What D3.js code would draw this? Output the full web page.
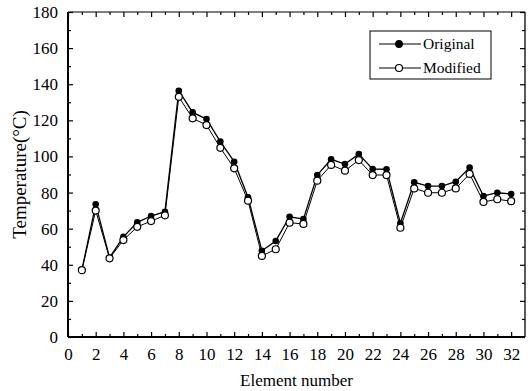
<!DOCTYPE html>
<html>
<head>
<meta charset="utf-8">
<script src="https://cdn.jsdelivr.net/npm/d3@7"></script>
<style>
body { margin: 0; background: #fff; }
text { font-family: "Liberation Serif", "Times New Roman", serif; fill: #000; }
</style>
</head>
<body>
<script>
var elements = d3.range(1, 33)
var original = [37, 73.5, 44, 55.5, 63.5, 67, 69.4, 136.4, 124.4, 120.7, 108.2, 97.1, 77.4, 47.8, 53.2, 66.6,
    65.3, 89.7, 98.4, 95.8, 101.3, 93, 92.9, 63, 85.7, 83.6, 83.6, 86, 93.8, 78.1, 79.9, 79.2]
var modified = [37, 70, 43.6, 53.7, 61, 64.2, 67.4, 133, 121.1, 117.4, 104.8, 93.4, 75.5, 44.9, 48.6, 63.3,
    62.6, 86.6, 95.3, 92.1, 98, 89.7, 89.7, 60.5, 82.3, 79.9, 79.9, 82.3, 90.3, 74.8, 76.3, 75.2]
var xMajor = d3.range(0, 33, 2)
var xMinor = d3.range(1, 33, 2)
var yMajor = d3.range(0, 181, 20)
var yMinor = d3.range(10, 180, 20)
var seriesNames = ["Original", "Modified"]

var W = 532, H = 391
var margin = {top: 12, right: 7, bottom: 54, left: 68}
var width = W - margin.left - margin.right,
    height = H - margin.top - margin.bottom

var x = d3.scaleLinear().domain([0, 33]).range([0, width])
var y = d3.scaleLinear().domain([0, 180]).range([height, 0])

var svg = d3.select("body").append("svg")
    .attr("width", W).attr("height", H)
var g = svg.append("g")
    .attr("transform", "translate(" + margin.left + "," + margin.top + ")")

function tidy(sel) {
    sel.select(".domain").remove()
    sel.selectAll("line").attr("stroke", "#000").attr("stroke-width", 1.2)
    sel.selectAll("text").style("font-family", "'Liberation Serif', serif").style("font-size", "17px")
}

// bottom axis
g.append("g").attr("transform", "translate(0," + height + ")")
    .call(d3.axisBottom(x).tickValues(xMajor).tickSizeInner(-5).tickPadding(11).tickFormat(d3.format("d")))
    .call(tidy)
g.append("g").attr("transform", "translate(0," + height + ")")
    .call(d3.axisBottom(x).tickValues(xMinor).tickSize(-3).tickFormat(""))
    .call(tidy)
// top axis
g.append("g")
    .call(d3.axisTop(x).tickValues(xMajor).tickSize(-5).tickFormat(""))
    .call(tidy)
g.append("g")
    .call(d3.axisTop(x).tickValues(xMinor).tickSize(-3).tickFormat(""))
    .call(tidy)
// left axis
g.append("g")
    .call(d3.axisLeft(y).tickValues(yMajor).tickSizeInner(-5).tickPadding(10))
    .call(tidy)
g.append("g")
    .call(d3.axisLeft(y).tickValues(yMinor).tickSize(-3).tickFormat(""))
    .call(tidy)
// right axis
g.append("g").attr("transform", "translate(" + width + ",0)")
    .call(d3.axisRight(y).tickValues(yMajor).tickSize(-5).tickFormat(""))
    .call(tidy)
g.append("g").attr("transform", "translate(" + width + ",0)")
    .call(d3.axisRight(y).tickValues(yMinor).tickSize(-3).tickFormat(""))
    .call(tidy)

// frame
g.append("line").attr("x1", 0).attr("x2", 0).attr("y1", 0).attr("y2", height)
    .attr("stroke", "#000").attr("stroke-width", 2)
g.append("line").attr("x1", 0).attr("x2", width).attr("y1", height).attr("y2", height)
    .attr("stroke", "#000").attr("stroke-width", 2)
g.append("line").attr("x1", 0).attr("x2", width).attr("y1", 0).attr("y2", 0)
    .attr("stroke", "#000").attr("stroke-width", 1)
g.append("line").attr("x1", width).attr("x2", width).attr("y1", 0).attr("y2", height)
    .attr("stroke", "#000").attr("stroke-width", 1.3)

// axis titles
svg.append("text")
    .attr("x", margin.left + width / 2).attr("y", 386)
    .attr("text-anchor", "middle").style("font-size", "17px")
    .text("Element number")
svg.append("text")
    .attr("transform", "translate(26," + (margin.top + height / 2) + ") rotate(-90)")
    .attr("text-anchor", "middle").style("font-size", "19px")
    .text("Temperature(°C)")

var line = d3.line()
    .x(function (d, i) { return x(elements[i]) })
    .y(function (d) { return y(d) })

// original series
g.append("path").attr("d", line(original))
    .attr("fill", "none").attr("stroke", "#000").attr("stroke-width", 1.3)
g.append("path").attr("d", line(modified))
    .attr("fill", "none").attr("stroke", "#000").attr("stroke-width", 1)

g.selectAll("circle.orig").data(original).enter()
    .append("circle").attr("class", "orig")
    .attr("cx", function (d, i) { return x(elements[i]) })
    .attr("cy", function (d) { return y(d) })
    .attr("r", 3.3)
    .attr("fill", "#000")
g.selectAll("circle.mod").data(modified).enter()
    .append("circle").attr("class", "mod")
    .attr("cx", function (d, i) { return x(elements[i]) })
    .attr("cy", function (d) { return y(d) })
    .attr("r", 3.5)
    .attr("fill", "#fff").attr("stroke", "#000").attr("stroke-width", 1.2)

// legend
var legend = svg.append("g").attr("transform", "translate(370,31)")
legend.append("rect").attr("width", 121).attr("height", 48)
    .attr("fill", "#fff").attr("stroke", "#000").attr("stroke-width", 1)
seriesNames.forEach(function (name, i) {
    var ly = 13 + i * 24
    legend.append("line").attr("x1", 9).attr("x2", 51).attr("y1", ly).attr("y2", ly)
        .attr("stroke", "#000").attr("stroke-width", 1.2)
    legend.append("circle").attr("cx", 29).attr("cy", ly).attr("r", i == 0 ? 3.3 : 3.5)
        .attr("fill", i == 0 ? "#000" : "#fff").attr("stroke", "#000").attr("stroke-width", 1.2)
    legend.append("text").attr("x", 53).attr("y", ly + 5)
        .style("font-size", "15.5px").text(name)
})
</script>
</body>
</html>
